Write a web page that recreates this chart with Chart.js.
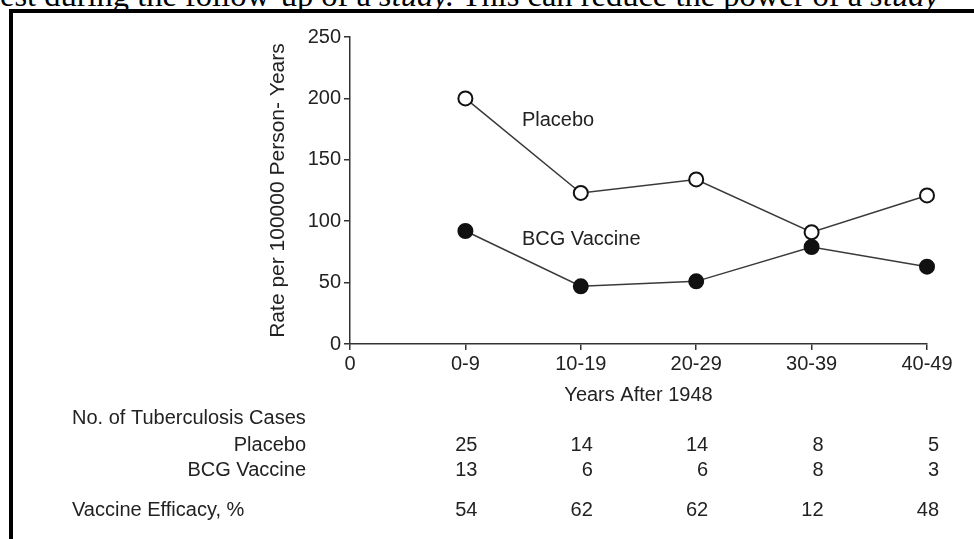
<!DOCTYPE html>
<html>
<head>
<meta charset="utf-8">
<script src="https://cdn.jsdelivr.net/npm/chart.js@4/dist/chart.umd.min.js"></script>
<style>
  html, body { margin: 0; padding: 0; background: #fff; overflow: hidden; }
  #page { position: relative; width: 974px; height: 539px; overflow: hidden; }
  #runin {
    position: absolute; left: 0; top: -21px; white-space: nowrap;
    font: 32.5px/1 "Liberation Serif", "Times New Roman", serif; color: #000;
  }
  #frame-top { position: absolute; left: 9px; top: 9px; width: 965px; height: 4px; background: #000; }
  #frame-left { position: absolute; left: 9px; top: 9px; width: 4px; height: 530px; background: #000; }
  #chart { position: absolute; left: 0; top: 0; }
</style>
</head>
<body>
<div id="page">
  <div id="runin">est during the follow-up of a <i>study.</i> This can reduce the power of a <i>study</i></div>
  <div id="frame-top"></div>
  <div id="frame-left"></div>
  <canvas id="chart" width="974" height="539"></canvas>
</div>
<script>
// ── 데이터 ────────────────────────────────────────────
const periods = ["0-9", "10-19", "20-29", "30-39", "40-49"];
const xTickLabels = ["0", ...periods];
const yTicks = [0, 50, 100, 150, 200, 250];

const placeboRate = [200, 123, 134, 91, 121];
const bcgRate = [92, 47, 51, 79, 63];

const placeboCases = [25, 14, 14, 8, 5];
const bcgCases = [13, 6, 6, 8, 3];
const efficacyPct = [54, 62, 62, 12, 48];

const FONT = '"Liberation Sans", Arial, Helvetica, sans-serif';
const INK = "#222";

const toPoints = (arr) => arr.map((v, i) => ({ x: i + 1, y: v }));

// ── 그림 위 글자들 (축 제목, 계열 이름, 아래 표) ─────────
const extraText = {
  id: "extraText",
  afterDraw(chart) {
    const { ctx, chartArea: a, scales } = chart;
    const xs = scales.x, ys = scales.y;
    ctx.save();
    ctx.fillStyle = INK;
    ctx.textBaseline = "middle";

    // y 축 제목
    ctx.save();
    ctx.font = "21px " + FONT;
    ctx.translate(a.left - 72, (a.top + a.bottom) / 2);
    ctx.rotate(-Math.PI / 2);
    ctx.textAlign = "center";
    ctx.fillText("Rate per 100000 Person- Years", 0, 0);
    ctx.restore();

    ctx.font = "20px " + FONT;

    // 계열 이름
    ctx.textAlign = "left";
    ctx.fillText("Placebo", xs.getPixelForValue(1.49), ys.getPixelForValue(182));
    ctx.fillText("BCG Vaccine", xs.getPixelForValue(1.49), ys.getPixelForValue(85));

    // x 축 제목
    ctx.textAlign = "center";
    ctx.fillText("Years After 1948", xs.getPixelForValue(2.5), a.bottom + 51);

    // 표
    const labelLeft = 72, labelRight = 306;
    ctx.textAlign = "left";
    ctx.fillText("No. of Tuberculosis Cases", labelLeft, a.bottom + 74);
    ctx.fillText("Vaccine Efficacy, %", labelLeft, a.bottom + 166);
    ctx.textAlign = "right";
    ctx.fillText("Placebo", labelRight, a.bottom + 101);
    ctx.fillText("BCG Vaccine", labelRight, a.bottom + 126);

    const rows = [
      [placeboCases, a.bottom + 101],
      [bcgCases, a.bottom + 126],
      [efficacyPct, a.bottom + 166],
    ];
    rows.forEach(([vals, y]) => {
      vals.forEach((v, i) => {
        ctx.fillText(String(v), xs.getPixelForValue(i + 1) + 12, y);
      });
    });
    ctx.restore();
  },
};

const lineStyle = {
  borderColor: "#3a3a3a",
  borderWidth: 1.5,
  pointRadius: 7,
  pointHoverRadius: 7,
  pointBorderWidth: 2,
  pointBorderColor: "#111",
  tension: 0,
  clip: false,
};

new Chart(document.getElementById("chart"), {
  type: "line",
  data: {
    datasets: [
      { ...lineStyle, label: "Placebo", data: toPoints(placeboRate), pointBackgroundColor: "#fff" },
      { ...lineStyle, label: "BCG Vaccine", data: toPoints(bcgRate), pointBackgroundColor: "#111" },
    ],
  },
  options: {
    responsive: false,
    animation: false,
    devicePixelRatio: 1,
    layout: { autoPadding: false, padding: { left: 0, top: 37, right: 47, bottom: 0 } },
    plugins: { legend: { display: false }, tooltip: { enabled: false } },
    scales: {
      x: {
        type: "linear",
        min: 0,
        max: xTickLabels.length - 1,
        afterBuildTicks: (s) => { s.ticks = xTickLabels.map((_, i) => ({ value: i })); },
        afterFit: (s) => { s.height = 195; },
        ticks: {
          callback: (v) => xTickLabels[v],
          color: INK,
          font: { family: FONT, size: 20 },
          padding: 2,
          maxRotation: 0,
        },
        grid: { drawOnChartArea: false, drawTicks: true, tickLength: 6, color: "#333", lineWidth: 1.5 },
        border: { display: true, color: "#333", width: 1.5 },
      },
      y: {
        min: yTicks[0],
        max: yTicks[yTicks.length - 1],
        afterBuildTicks: (s) => { s.ticks = yTicks.map((v) => ({ value: v })); },
        afterFit: (s) => { s.width = 350; },
        ticks: {
          color: INK,
          font: { family: FONT, size: 20 },
          padding: 3,
        },
        grid: { drawOnChartArea: false, drawTicks: true, tickLength: 6, color: "#333", lineWidth: 1.5 },
        border: { display: true, color: "#333", width: 1.5 },
      },
    },
  },
  plugins: [extraText],
});
</script>
</body>
</html>
